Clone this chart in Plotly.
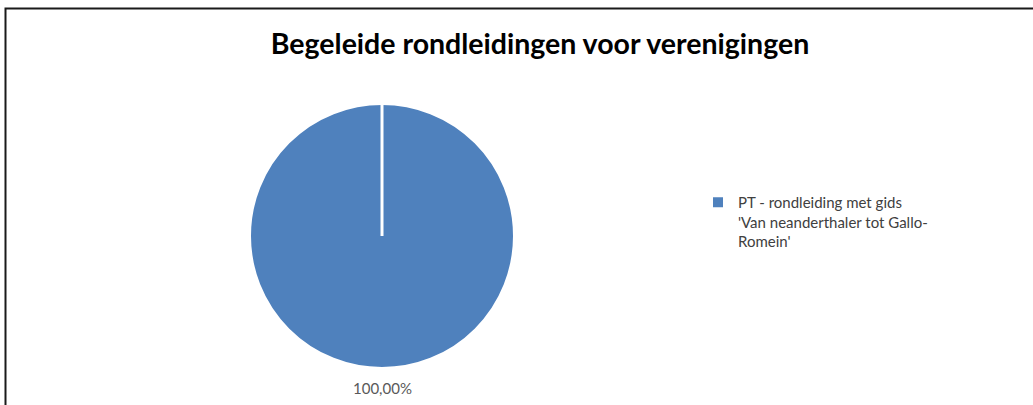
import plotly.graph_objects as go

title = "Begeleide rondleidingen voor verenigingen"
labels = ["PT - rondleiding met gids<br>'Van neanderthaler tot Gallo-<br>Romein'"]
values = [100.0]
text_labels = ["100,00%"]

W, H = 1033, 405
cx, cy, r = 382, 236, 132  # pie centre / radius in px

dom_x = [(cx - r) / W, (cx + r) / W]
dom_y = [1 - (cy + r) / H, 1 - (cy - r) / H]

FONT = "Lato, Open Sans, sans-serif"

fig = go.Figure(go.Pie(
    labels=labels,
    values=values,
    textinfo="none",
    marker=dict(colors=["#4F81BD"], line=dict(color="white", width=2)),
    sort=False,
    direction="clockwise",
    rotation=0,
    domain=dict(x=dom_x, y=dom_y),
    showlegend=True,
    hoverinfo="label+percent",
))

# data label below the pie
fig.add_annotation(text=text_labels[0], xref="paper", yref="paper",
                   x=(dom_x[0] + dom_x[1]) / 2, y=dom_y[0] - 20 / H,
                   xanchor="center", yanchor="middle", showarrow=False,
                   font=dict(family=FONT, size=15, color="#595959"))

# slice boundary line (from pie centre to 12 o'clock)
fig.add_shape(type="line", xref="paper", yref="paper",
              x0=(dom_x[0] + dom_x[1]) / 2, x1=(dom_x[0] + dom_x[1]) / 2,
              y0=(dom_y[0] + dom_y[1]) / 2, y1=dom_y[1],
              line=dict(color="white", width=3))

# chart frame
fig.add_shape(type="rect", xref="paper", yref="paper",
              x0=5.5 / W, x1=1.05, y0=-0.05, y1=1 - 8.5 / H,
              line=dict(color="#1a1a1a", width=2), fillcolor="rgba(0,0,0,0)")

fig.update_layout(
    width=W, height=H,
    margin=dict(l=0, r=0, t=0, b=0),
    paper_bgcolor="white",
    plot_bgcolor="white",
    title=dict(text=title, x=540 / W, xanchor="center", y=1 - 44 / H, yanchor="middle",
               font=dict(family=FONT, size=28.5, color="black", weight="bold")),
    legend=dict(x=698 / W, y=1 - 186 / H, xanchor="left", yanchor="top",
                valign="top",
                font=dict(family=FONT, size=15, color="#404040"),
                bgcolor="rgba(0,0,0,0)"),
)

fig.write_html("out.html",
               config={"displayModeBar": False},
               post_script="document.body.style.margin='0';document.body.style.overflow='hidden';")
